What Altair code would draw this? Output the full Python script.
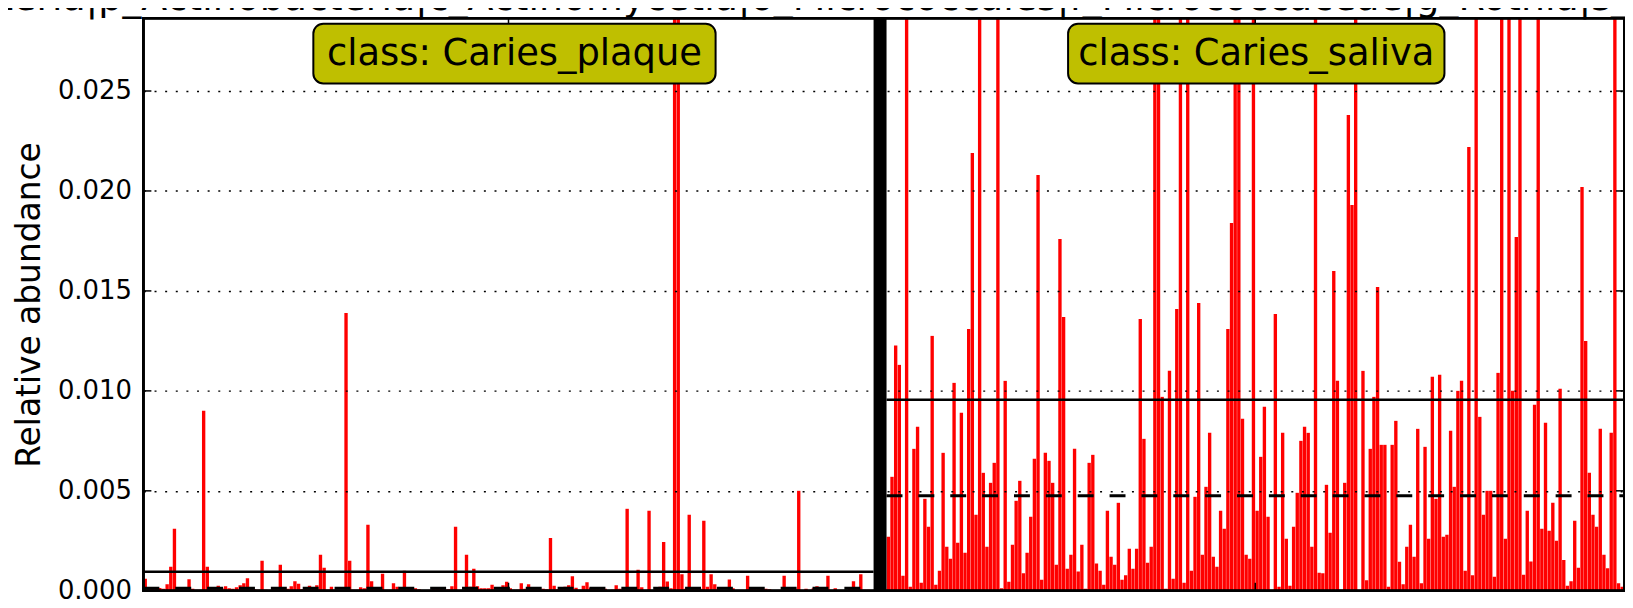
import altair as alt
import pandas as pd

# ---------------- data ----------------
classes = ["Caries_plaque", "Caries_saliva"]

plaque = [
    0.0006, 0.00017, 0.00015, 0.00016, 0.00014, 0.0001, 0.00033, 0.0012, 0.0031,
    0.00013, 0.0001, 0.00012, 0.00058, 0.0001, 0.00005, 0.00005, 0.0090, 0.0012,
    0.0001, 0.00012, 0.00025, 0.00013, 0.00023, 0.00013, 0.0001, 0.00018, 0.00028,
    0.00037, 0.00063, 0.0001, 0.00008, 0.00005, 0.0015, 0.00005, 0.00004, 0.00008,
    0.00008, 0.0013, 0.00012, 0.0001, 0.00023, 0.00048, 0.00035, 0.00008, 0.0001,
    0.00025, 0.00013, 0.00028, 0.0018, 0.00115, 0.00005, 0.0002, 0.00005, 0.00005,
    0.00005, 0.0139, 0.0015, 0.00005, 0.00005, 0.00018, 0.00013, 0.0033, 0.00048,
    0.00013, 0.0001, 0.00085, 0.00005, 0.00005, 0.00038, 0.0002, 0.0001, 0.001,
    0.00012, 0.0001, 0.00012, 0.00008, 0.00003, 0.00003, 0.00003, 0.00013, 0.0001,
    0.0001, 0.00008, 0.00008, 0.00023, 0.0032, 0.00003, 0.00003, 0.0018, 0.0002,
    0.0011, 0.00023, 0.00013, 0.00013, 0.00013, 0.0003, 0.00005, 0.00005, 0.00028,
    0.00045,
    0.00013, 0.00005, 0.00005, 0.00038, 0.0001, 0.00033, 0.00012, 0.0001, 0.00012,
    0.0001, 0.00008, 0.00264, 0.00025, 0.00008, 0.00013, 0.0002, 0.00028, 0.00073,
    0.00015, 0.00005, 0.00025, 0.00042, 0.00015, 0.00018, 0.0001, 0.0001, 0.0001,
    0.00003, 0.00005, 0.00028, 0.0001, 0.00012, 0.0041, 0.00012, 0.0001, 0.00105,
    0.00017, 0.00003, 0.004, 0.00003, 0.00013, 0.0002, 0.00244, 0.00046, 0.00013,
    0.048, 0.035, 0.00083, 0.0001, 0.0038, 0.00012, 0.00013, 0.0001, 0.0035,
    0.0002, 0.00083, 0.00033, 0.00012, 0.00005, 0.00005, 0.00056, 0.00013, 0.00003,
    0.00003, 0.00003, 0.00075, 0.0001, 0.0001, 0.0001, 0.0001, 0.0001, 0.00007,
    0.00002, 0.00002, 0.00002, 0.00075, 0.00013, 0.0001, 0.0001, 0.0050, 0.00003,
    0.0001, 0.00003, 0.00013, 0.00023, 0.00013, 0.0001, 0.00075, 0.00003, 0.00013,
    0.00003, 0.00003, 0.00003, 0.00013, 0.00048, 0.00013, 0.00083, 0.00005, 0.00005,
    0.00003,
]

saliva = [
    0.0027, 0.0057, 0.01227, 0.0113, 0.00075, 0.062, 0.0002, 0.0071, 0.0082, 0.0004,
    0.0046, 0.0032, 0.01275, 0.0003, 0.001, 0.0069, 0.0022, 0.0016, 0.0104, 0.0024,
    0.0089, 0.0019, 0.0131, 0.0219, 0.0038, 0.041, 0.0059, 0.0022, 0.0054, 0.0064,
    0.055, 0.00013, 0.0105, 0.00045, 0.0023, 0.0045, 0.0055, 0.00088, 0.0019, 0.0037,
    0.0066, 0.0208, 0.00055, 0.0069, 0.0065, 0.0054, 0.0013, 0.0176, 0.0137, 0.0011,
    0.0018, 0.0071, 0.00096, 0.0023, 0.0001, 0.0064, 0.0068, 0.00136, 0.001, 0.0003,
    0.004, 0.0017, 0.0013, 0.0044, 0.00055, 0.00078, 0.0021, 0.0011, 0.0021, 0.0136,
    0.0076, 0.0014, 0.0022, 0.072, 0.048, 0.0097, 0.0001, 0.011, 0.0006, 0.0141,
    0.035, 0.0004, 0.058, 0.001, 0.0047, 0.0144, 0.0018, 0.0052, 0.0079, 0.0017,
    0.0012, 0.004, 0.0031, 0.0131, 0.0184, 0.044, 0.067, 0.0086,
    0.0018, 0.0016, 0.039, 0.004, 0.0067, 0.0092, 0.0037, 0.00002, 0.01385, 0.0002,
    0.0079, 0.0026, 0.00025, 0.0032, 0.0049, 0.0075, 0.0082, 0.0079, 0.0022, 0.052,
    0.0009, 0.00088, 0.0053, 0.0029, 0.016, 0.0105, 0.00005, 0.0054, 0.0238, 0.0193,
    0.061, 0.00002, 0.011, 0.00053, 0.0071, 0.0097, 0.0152, 0.0073, 0.0073, 0.0002,
    0.0073, 0.0085, 0.00145, 0.00033, 0.0022, 0.0033, 0.0017, 0.0081, 0.00037, 0.0072,
    0.0026, 0.0107, 0.0046, 0.0108, 0.0027, 0.0028, 0.008, 0.0052, 0.01, 0.0105,
    0.001, 0.0222, 0.00078, 0.046, 0.0087, 0.0038, 0.005, 0.005, 0.0007, 0.0109,
    0.05, 0.0026, 0.043, 0.01, 0.0177, 0.057, 0.0008, 0.004, 0.00146, 0.0093,
    0.038, 0.0031, 0.0084, 0.003, 0.0044, 0.0025, 0.0101, 0.00154, 0.00025, 0.00048,
    0.0035, 0.00115, 0.0202, 0.0125, 0.0059, 0.0038, 0.0032, 0.0081, 0.0018, 0.00113,
    0.0079, 0.053, 0.00037, 0.0002,
]

mean_vals = [0.00095, 0.00956]      # solid lines
median_vals = [0.00012, 0.00475]    # dashed lines
y_ticks = [0.0, 0.005, 0.010, 0.015, 0.020, 0.025]
feature = ("k_Bacteria|p_Actinobacteria|c_Actinomycetia|o_Micrococcales|"
           "f_Micrococcaceae|g_Rothia|s_Rothia_mucilaginosa")

# ---------------- layout / style ----------------
W, H = 1487, 575
YMAX = 0.02864
GAP = 3.55
FONT = "DejaVu Sans"
RED = "#ff0000"
BOX_W = [404, 378]
BOX_DX = [6, 1]
BOX_H = 60
TITLE_SIZE = 38
TITLE_X = -257      # text starts left of the page, as in the reference
TITLE_Y = -8

rows, spans = [], []
start = 0.0
for cls, vals in zip(classes, [plaque, saliva]):
    for i, v in enumerate(vals):
        rows.append({"cls": cls, "x0": start + i + 0.04, "x1": start + i + 0.96, "v": v})
    spans.append((start, start + len(vals)))
    start += len(vals) + GAP
total = spans[-1][1]
bars = pd.DataFrame(rows)

stats = pd.DataFrame({
    "cls": classes,
    "xs": [s[0] for s in spans],
    "xe": [s[1] for s in spans],
    "xc": [(s[0] + s[1]) / 2 for s in spans],
    "mean": mean_vals,
    "median": median_vals,
    "label": ["class: " + c for c in classes],
})
sep = pd.DataFrame({"xs": [spans[0][1]], "xe": [spans[1][0]]})
ticks = pd.DataFrame({"t": y_ticks})
title_df = pd.DataFrame({"t": [feature]})

xs = alt.Scale(domain=[0, total], nice=False, zero=False)
ys = alt.Scale(domain=[0, YMAX], nice=False, zero=False)
y_axis = alt.Axis(
    values=y_ticks, format=".3f", labelFontSize=26, labelFont=FONT,
    labelColor="black", labelPadding=12, ticks=False, domain=False,
    grid=True, gridDash=[2, 8.67], gridColor="black", gridWidth=1.4,
    title="Relative abundance", titleFontSize=33, titleFont=FONT,
    titleFontWeight="normal", titleColor="black", titlePadding=11, zindex=1)


def Y(field):
    return alt.Y(field, scale=ys, axis=y_axis)


def X(field):
    return alt.X(field, scale=xs, axis=None)


bar_layer = alt.Chart(bars).mark_bar(color=RED, clip=True).encode(
    x=X("x0:Q"), x2="x1", y=Y("v:Q"), y2=alt.datum(0),
)

sep_layer = alt.Chart(sep).mark_rect(color="black").encode(
    x=X("xs:Q"), x2="xe", y=alt.value(0), y2=alt.value(H),
)

mean_layer = alt.Chart(stats).mark_rule(color="black", strokeWidth=2.5).encode(
    x=X("xs:Q"), x2="xe", y=Y("mean:Q"),
)
median_layer = alt.Chart(stats).mark_rule(color="black", strokeWidth=3, strokeDash=[16, 16]).encode(
    x=X("xs:Q"), x2="xe", y=Y("median:Q"),
)

ytick_l = alt.Chart(ticks).mark_rule(color="black", strokeWidth=1.5).encode(
    y=Y("t:Q"), x=alt.value(0), x2=alt.value(8))
ytick_r = alt.Chart(ticks).mark_rule(color="black", strokeWidth=1.5).encode(
    y=Y("t:Q"), x=alt.value(W - 8), x2=alt.value(W))
xtick_t = alt.Chart(stats).mark_rule(color="black", strokeWidth=1.5).encode(
    x=X("xc:Q"), y=alt.value(0), y2=alt.value(8))
xtick_b = alt.Chart(stats).mark_rule(color="black", strokeWidth=1.5).encode(
    x=X("xc:Q"), y=alt.value(H - 8), y2=alt.value(H))

frame = alt.Chart(ticks).mark_rect(fill=None, stroke="black", strokeWidth=2).encode(
    x=alt.value(0), x2=alt.value(W), y=alt.value(0), y2=alt.value(H))

title_layer = alt.Chart(title_df).mark_text(
    fontSize=TITLE_SIZE, font=FONT, color="black", align="left", baseline="alphabetic",
).encode(x=alt.value(TITLE_X), y=alt.value(TITLE_Y), text="t:N")

layers = [bar_layer, sep_layer, mean_layer, median_layer, ytick_l, ytick_r,
          xtick_t, xtick_b, frame, title_layer]

for cls, bw, dx in zip(classes, BOX_W, BOX_DX):
    sub = alt.Chart(stats).transform_filter(alt.datum.cls == cls)
    layers.append(
        sub.mark_rect(width=bw, height=BOX_H, cornerRadius=10, fill="#bfbf00",
                      stroke="black", strokeWidth=2, xOffset=dx)
        .encode(x=X("xc:Q"), y=alt.value(35.5))
    )
    layers.append(
        sub.mark_text(fontSize=37, font=FONT, color="black", align="center",
                      baseline="middle", xOffset=dx)
        .encode(x=X("xc:Q"), y=alt.value(36), text="label:N")
    )

chart = alt.layer(*layers).properties(
    width=W, height=H,
    autosize=alt.AutoSizeParams(type="none"),
    padding={"left": 136, "top": 9, "right": 1, "bottom": 12},
).configure(font=FONT).configure_view(stroke=None)

chart.save("out.html", embed_options={"renderer": "svg", "actions": False})
